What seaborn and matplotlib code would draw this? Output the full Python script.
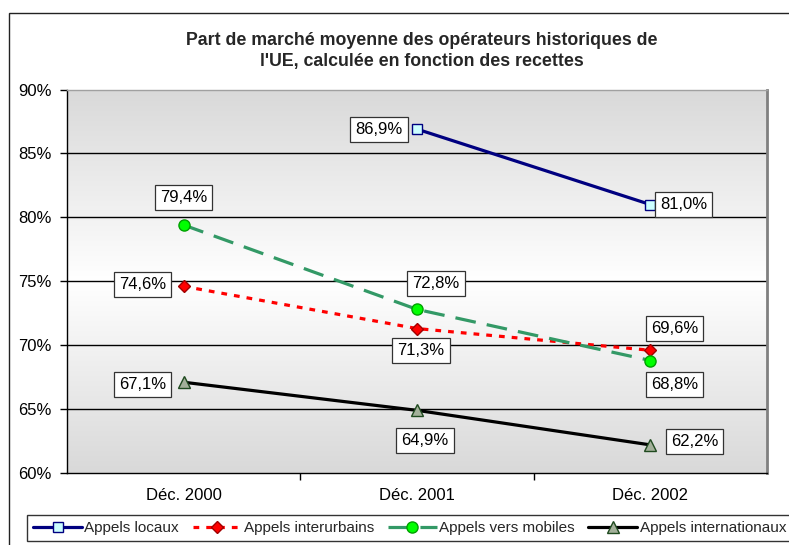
import numpy as np
import pandas as pd
import matplotlib.pyplot as plt
import matplotlib.patches as mpatches
import seaborn as sns

# data
categories = ["Déc. 2000", "Déc. 2001", "Déc. 2002"]
appels_locaux = [np.nan, 86.9, 81.0]
appels_interurbains = [74.6, 71.3, 69.6]
appels_mobiles = [79.4, 72.8, 68.8]
appels_internationaux = [67.1, 64.9, 62.2]
series_names = ["Appels locaux", "Appels interurbains",
                "Appels vers mobiles", "Appels internationaux"]
title = "Part de marché moyenne des opérateurs historiques de\nl'UE, calculée en fonction des recettes"

sns.set_theme(style="white")
plt.rcParams['font.family'] = ['Liberation Sans', 'DejaVu Sans']

fig = plt.figure(figsize=(7.89, 5.45), dpi=100)
ax = fig.add_axes([67 / 789, 1 - 473 / 545, 700 / 789, 383.5 / 545])

# gradient background of the plot area (grey - white - grey)
grad = np.interp(np.linspace(0, 1, 256), [0, 0.5, 1], [0.85, 1.0, 0.85])
ax.imshow(np.dstack([grad, grad, grad]).reshape(256, 1, 3),
          extent=[-0.5, 2.5, 60, 90], aspect='auto', zorder=0)

x = np.arange(len(categories))
styles = [
    dict(color='#000080', marker='s', markersize=6.5, mfc='#ccffff', mec='#000080', dashes=None),
    dict(color='#ff0000', marker='D', markersize=6.5, mfc='#ff0000', mec='#a00000', dashes=(1.8, 2.2)),
    dict(color='#339966', marker='o', markersize=8, mfc='#00ff00', mec='#00a000', dashes=(6.5, 3.5)),
    dict(color='#000000', marker='^', markersize=8.5, mfc='#a3b09a', mec='#1f4a1f', dashes=None),
]
all_series = [appels_locaux, appels_interurbains, appels_mobiles, appels_internationaux]

for name, vals, st in zip(series_names, all_series, styles):
    df = pd.DataFrame({'x': x, 'y': vals}).dropna()
    sns.lineplot(data=df, x='x', y='y', ax=ax, color=st['color'], linewidth=2.3,
                 marker=st['marker'], markersize=st['markersize'],
                 markerfacecolor=st['mfc'], markeredgecolor=st['mec'],
                 markeredgewidth=1.0, label=name, zorder=4)
    line = ax.lines[-1]
    if st['dashes'] is not None:
        line.set_dashes(st['dashes'])

# value labels, offsets in pixels from the point
label_offsets = [
    [None, (-38, 0), (33, 0)],
    [(-41, 2), (4, -22), (24, 22)],
    [(0, 28), (19, 26), (24, -24)],
    [(-41, -2), (8, -30), (44, 3)],
]
for vals, offs in zip(all_series, label_offsets):
    for xi, v, off in zip(x, vals, offs):
        if off is None or np.isnan(v):
            continue
        ax.annotate(f"{v:.1f}%".replace('.', ','), (xi, v), xytext=off,
                    textcoords='offset pixels', ha='center', va='center',
                    fontsize=12, color='black', zorder=6,
                    bbox=dict(boxstyle='square,pad=0.3', fc='white', ec='#333333', lw=0.9))

ax.set_xlim(-0.5, 2.5)
ax.set_ylim(60, 90)
yt = np.arange(60, 91, 5)
ax.set_yticks(yt)
ax.set_yticklabels([f"{t}%" for t in yt], fontsize=12, color='black')
ax.set_xticks(x)
ax.set_xticklabels(categories, fontsize=12, color='black')
ax.set_xticks([0.5, 1.5], minor=True)
ax.tick_params(axis='x', which='major', length=0, pad=11)
ax.tick_params(axis='x', which='minor', length=5, width=1, color='black', direction='out', bottom=True)
ax.tick_params(axis='y', length=5, width=1, color='black', direction='out', left=True, pad=6)
ax.set_xlabel('')
ax.set_ylabel('')
ax.grid(False)
for t in yt[1:-1]:
    ax.axhline(t, color='black', lw=1.0, zorder=2)

for side in ['left', 'bottom']:
    ax.spines[side].set_color('black')
    ax.spines[side].set_linewidth(1.0)
ax.spines['top'].set_color('#a0a0a0')
ax.spines['top'].set_linewidth(1.0)
ax.spines['right'].set_color('#808080')
ax.spines['right'].set_linewidth(2.0)

ax.get_legend().remove()
fig.text(422 / 789, 1 - 51 / 545, title, ha='center', va='center', fontsize=12.8,
         fontweight='bold', linespacing=1.35)

handles, labels = ax.get_legend_handles_labels()
leg = fig.legend(handles, labels, loc='lower left', bbox_to_anchor=(27 / 789, 1 - 541 / 545),
                 ncol=4, fontsize=11, frameon=True, fancybox=False, edgecolor='black',
                 handlelength=3.2, handletextpad=0.15, columnspacing=0.9,
                 borderpad=0.4, borderaxespad=0, numpoints=1)
leg.get_frame().set_linewidth(1.0)

# outer chart border
fig.patches.append(mpatches.Rectangle((9 / 789, -0.05), 1.1, 1 - 13 / 545 + 0.05,
                                      transform=fig.transFigure, fill=False,
                                      ec='#222222', lw=1.0))

fig.savefig('out.png', dpi=100)
